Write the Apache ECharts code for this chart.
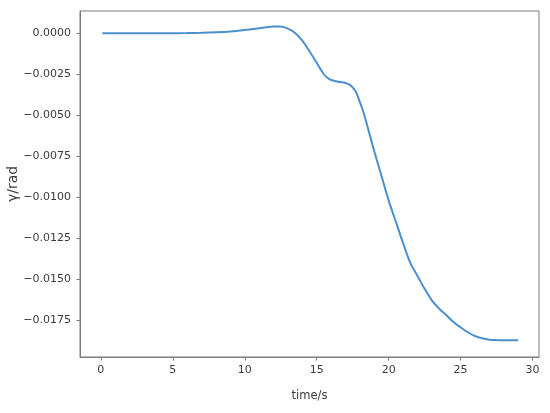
<!DOCTYPE html>
<html>
<head>
<meta charset="utf-8">
<script src="https://cdn.jsdelivr.net/npm/echarts@6/dist/echarts.min.js"></script>
<style>html,body{margin:0;padding:0;background:#fff;}#c{width:550px;height:413px;}</style>
</head>
<body>
<div id="c"></div>
<script>
const times = [0.1, 1, 2, 3, 4, 5, 6, 7, 8, 9, 10, 11, 11.5, 12, 12.5, 13, 13.5, 14, 14.5, 15, 15.5, 15.75, 16, 16.5, 17, 17.25, 17.5, 17.75, 18, 18.25, 18.5, 19, 19.5, 20, 20.5, 21, 21.5, 22, 22.5, 23, 23.5, 24, 24.5, 25, 25.5, 26, 26.5, 27, 27.5, 28, 28.5, 29];
const gammaValues = [0, 0, 0, 0, 0, 0, 0.00001, 0.00003, 0.00006, 0.00011, 0.0002, 0.00031, 0.00037, 0.00042, 0.00041, 0.00028, 0.00002, -0.00045, -0.0011, -0.0018, -0.0025, -0.00272, -0.00285, -0.00296, -0.00303, -0.00312, -0.0033, -0.00362, -0.0042, -0.00482, -0.0056, -0.0072, -0.0087, -0.0102, -0.0115, -0.0128, -0.014, -0.0148, -0.0156, -0.0163, -0.0168, -0.0172, -0.01762, -0.01795, -0.01825, -0.01848, -0.01862, -0.0187, -0.01873, -0.01874, -0.01874, -0.01874];
const xTicks = [0, 5, 10, 15, 20, 25, 30];
const yTicks = [0, -0.0025, -0.005, -0.0075, -0.01, -0.0125, -0.015, -0.0175];

const textColor = '#3c3c3c';
const frameColor = '#7c7c7c';
const font = 'DejaVu Sans';

const chart = echarts.init(document.getElementById('c'), null, {renderer: 'canvas'});
chart.setOption({
  animation: false,
  backgroundColor: '#fff',
  grid: {left: 80, right: 11, top: 11, bottom: 56, containLabel: false, outerBoundsMode: 'none',
    show: true, borderColor: frameColor, borderWidth: 1, backgroundColor: 'transparent'},
  xAxis: {
    type: 'value', min: -1.45, max: 30.45,
    name: 'time/s', nameLocation: 'middle', nameGap: 33, nameMoveOverlap: false,
    nameTextStyle: {color: textColor, fontFamily: font, fontSize: 11.5},
    axisLine: {show: true, onZero: false, lineStyle: {color: frameColor, width: 1}},
    axisTick: {show: true, customValues: xTicks, length: 3.5, lineStyle: {color: frameColor}},
    axisLabel: {customValues: xTicks, color: textColor, fontFamily: font, fontSize: 11, margin: 8},
    splitLine: {show: false}
  },
  yAxis: {
    type: 'value', min: -0.01976, max: 0.00136,
    name: 'γ/rad', nameLocation: 'middle', nameGap: 60, nameRotate: 90, nameMoveOverlap: false,
    nameTextStyle: {color: textColor, fontFamily: font, fontSize: 14},
    axisLine: {show: true, onZero: false, lineStyle: {color: frameColor, width: 1}},
    axisTick: {show: true, customValues: yTicks, length: 3.5, lineStyle: {color: frameColor}},
    axisLabel: {customValues: yTicks, color: textColor, fontFamily: font, fontSize: 11, margin: 9,
      formatter: v => (v < 0 ? '\u2212' : '') + Math.abs(v).toFixed(4)},
    splitLine: {show: false}
  },
  series: [{
    type: 'line',
    data: times.map((t, i) => [t, gammaValues[i]]),
    showSymbol: false,
    smooth: 0.3,
    lineStyle: {color: '#4a90cf', width: 2}
  }]
});
</script>
</body>
</html>
